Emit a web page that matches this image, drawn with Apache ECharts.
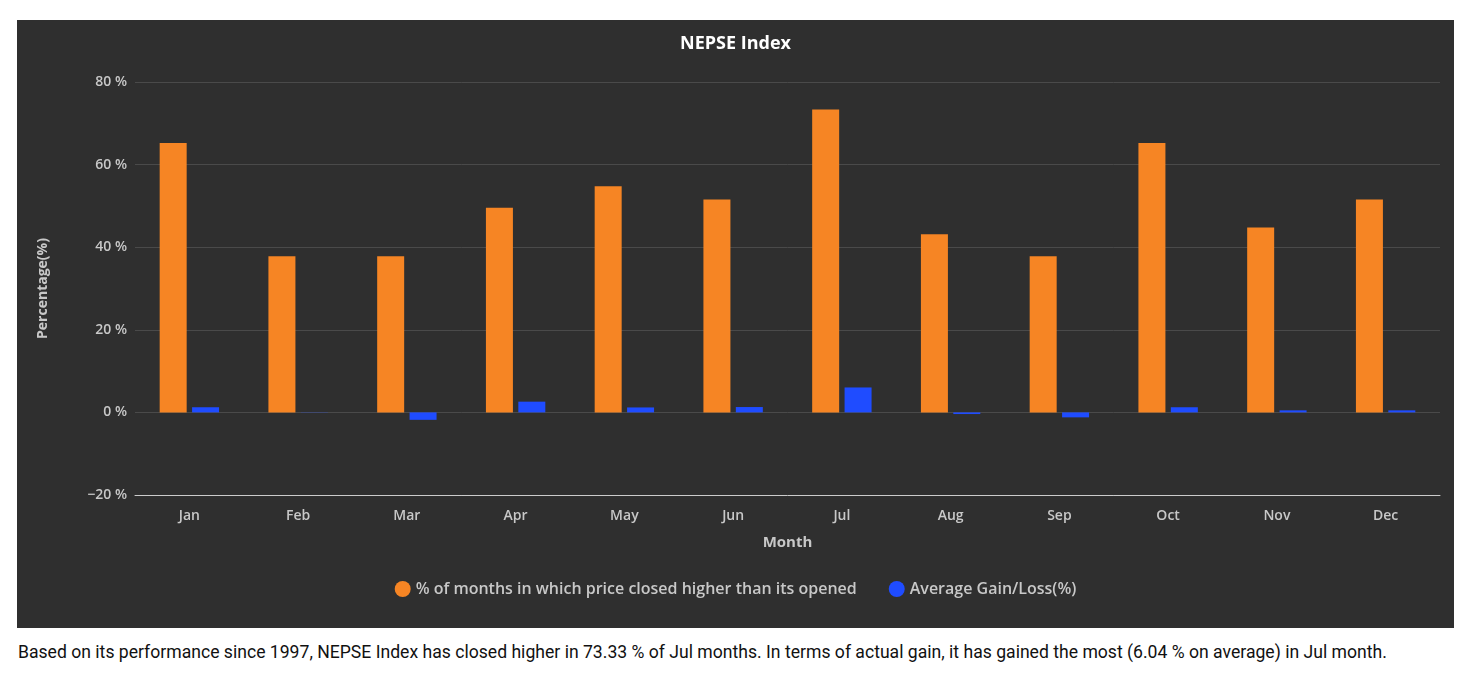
<!DOCTYPE html>
<html><head><meta charset="utf-8">
<script src="https://cdn.jsdelivr.net/npm/echarts@6/dist/echarts.min.js"></script>
<style>
body{margin:0;background:#fff;width:1464px;height:684px;overflow:hidden;font-family:Roboto,sans-serif}
#c{position:absolute;left:17px;top:20px;width:1437px;height:608px;background:#2f2f2f}
#cap{position:absolute;left:18px;top:642px;font-size:17.6px;color:#111}
</style></head><body>
<div id="c"></div>
<div id="cap">Based on its performance since 1997, NEPSE Index has closed higher in 73.33 % of Jul months. In terms of actual gain, it has gained the most (6.04 % on average) in Jul month.</div>
<script>
const months=['Jan','Feb','Mar','Apr','May','Jun','Jul','Aug','Sep','Oct','Nov','Dec'];
const pctHigher=[65.22,37.78,37.78,49.57,54.78,51.55,73.33,43.12,37.78,65.22,44.78,51.55];
const avgGain=[1.25,0.05,-1.8,2.6,1.2,1.3,6.04,-0.4,-1.2,1.25,0.5,0.5];
const c=echarts.init(document.getElementById('c'));
const txt='#c8c8c8';
c.setOption({
 backgroundColor:'#2f2f2f',
 textStyle:{fontFamily:'Open Sans'},
 title:{text:'NEPSE Index',left:'center',top:10,textStyle:{color:'#fff',fontSize:18,fontWeight:'bold',fontFamily:'Open Sans'}},
 grid:{left:118,right:14,top:62,bottom:133},
 legend:{bottom:26,itemWidth:16,itemHeight:16,itemGap:32,icon:'circle',textStyle:{color:txt,fontSize:16,fontWeight:600,fontFamily:'Open Sans'}},
 xAxis:{type:'category',data:months,name:'Month',nameLocation:'middle',nameGap:40,nameTextStyle:{color:txt,fontSize:15,fontWeight:'bold'},
   axisLine:{onZero:false,lineStyle:{color:'#ccc'}},axisTick:{show:false},axisLabel:{color:txt,fontSize:14,margin:14,fontWeight:600}},
 yAxis:{type:'value',min:-20,max:80,interval:20,name:'Percentage(%)',nameLocation:'middle',nameGap:85,nameTextStyle:{color:txt,fontSize:14,fontWeight:'bold'},
   axisLabel:{color:txt,fontSize:14,fontWeight:600,formatter:v=>(v<0?'−'+(-v):v)+' %'},splitLine:{lineStyle:{color:'#4a4a4a'}}},
 series:[
  {name:'% of months in which price closed higher than its opened',type:'bar',data:pctHigher,itemStyle:{color:'#f68524'},barWidth:27,barGap:'20%'},
  {name:'Average Gain/Loss(%)',type:'bar',data:avgGain,itemStyle:{color:'#1f4cff'},barWidth:27}
 ]
});
</script></body></html>
